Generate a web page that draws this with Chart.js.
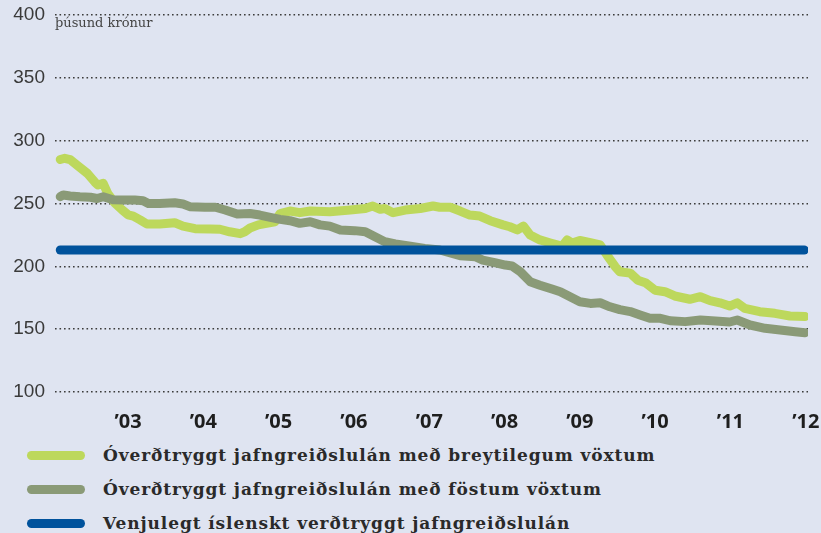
<!DOCTYPE html>
<html lang="is">
<head>
    <meta charset="UTF-8">
    <title>Jafngreiðslulán</title>
    <script src="https://cdn.jsdelivr.net/npm/chart.js"></script>
    <style>
        body {
            margin: 0;
            width: 821px;
            height: 533px;
            overflow: hidden;
            background-color: #dfe4f1;
            position: relative;
        }
        .chart-box {
            position: absolute;
            left: 0;
            top: 0;
            width: 821px;
            height: 432px;
        }
        .legend {
            position: absolute;
            left: 27px;
            top: 438px;
        }
        .legend-row {
            display: flex;
            align-items: center;
            height: 34px;
            font-family: "DejaVu Serif", serif;
            font-weight: bold;
            font-size: 17px;
            letter-spacing: 0.9px;
            color: #2a2a2a;
        }
        .swatch {
            width: 58px;
            height: 9px;
            border-radius: 5px;
            margin-right: 18px;
        }
    </style>
</head>
<body>
    <div class="chart-box">
        <canvas id="loanChart" width="821" height="432"></canvas>
    </div>
    <div class="legend" id="legend"></div>

    <script>
        // gildi lesin af myndinni (þúsund krónur)
        const seriesNames = [
            'Óverðtryggt jafngreiðslulán með breytilegum vöxtum',
            'Óverðtryggt jafngreiðslulán með föstum vöxtum',
            'Venjulegt íslenskt verðtryggt jafngreiðslulán'
        ];
        const seriesColors = ['#bdd85c', '#8a9a77', '#00529c'];

        const variableYears = [2002.10, 2002.16, 2002.23, 2002.32, 2002.46, 2002.56, 2002.60, 2002.67, 2002.73, 2002.83,
            2002.92, 2003.00, 2003.07, 2003.16, 2003.25, 2003.42, 2003.62, 2003.73, 2003.89, 2004.09,
            2004.22, 2004.35, 2004.49, 2004.55, 2004.62, 2004.73, 2004.82, 2004.95, 2005.02, 2005.15,
            2005.28, 2005.42, 2005.68, 2005.95, 2006.15, 2006.25, 2006.35, 2006.41, 2006.52, 2006.68,
            2006.88, 2007.05, 2007.14, 2007.28, 2007.41, 2007.54, 2007.67, 2007.81, 2007.98, 2008.07,
            2008.17, 2008.25, 2008.34, 2008.47, 2008.60, 2008.71, 2008.76, 2008.83, 2008.90, 2009.00,
            2009.14, 2009.27, 2009.36, 2009.47, 2009.53, 2009.67, 2009.77, 2009.87, 2010.00, 2010.13,
            2010.26, 2010.46, 2010.60, 2010.73, 2010.86, 2010.99, 2011.09, 2011.19, 2011.39, 2011.59,
            2011.79, 2011.99];
        const variableValues = [285, 286, 285, 280.6, 274, 267, 264.7, 266, 258, 250,
            245, 241, 240, 237, 233.7, 233.7, 234.7, 232, 230, 229.7,
            229.5, 227.5, 226, 227.5, 230.5, 233, 234, 235.5, 242, 244,
            242.7, 244, 243.5, 244.8, 246, 248, 245.4, 246, 242.7, 244.8,
            246, 248, 247, 247, 244, 240.8, 240, 236.3, 233, 231.5,
            229, 232, 225, 221, 218.8, 217, 215.6, 221, 218.5, 220.6,
            218.8, 217, 209, 199.7, 195.7, 194.6, 189, 187, 181, 179.8,
            176.4, 173.8, 175.8, 172.7, 171, 168.4, 171, 166.6, 163.9, 162.6,
            160.5, 160];

        const fixedYears = [2002.10, 2002.14, 2002.23, 2002.36, 2002.50, 2002.59, 2002.67, 2002.80, 2002.96, 2003.09,
            2003.20, 2003.27, 2003.42, 2003.62, 2003.73, 2003.82, 2004.02, 2004.16, 2004.29, 2004.45,
            2004.62, 2004.75, 2004.89, 2005.02, 2005.15, 2005.28, 2005.42, 2005.55, 2005.68, 2005.82,
            2006.01, 2006.15, 2006.28, 2006.41, 2006.55, 2006.75, 2006.94, 2007.14, 2007.41, 2007.61,
            2007.71, 2007.87, 2008.01, 2008.10, 2008.21, 2008.34, 2008.47, 2008.64, 2008.74, 2008.87,
            2009.00, 2009.14, 2009.27, 2009.40, 2009.53, 2009.67, 2009.80, 2009.93, 2010.07, 2010.20,
            2010.40, 2010.60, 2010.80, 2010.99, 2011.09, 2011.26, 2011.46, 2011.66, 2011.86, 2011.99];
        const fixedValues = [255.4, 256.8, 256, 255.4, 255, 254, 255.4, 253, 252.8, 252.8,
            252.2, 250, 250, 250.6, 249.6, 247.5, 247, 247, 244.8, 241.6,
            242, 240.8, 239, 237.4, 236.3, 234.2, 235.5, 233, 232, 228.9,
            228.4, 227.6, 223.6, 219.6, 217.8, 216, 214.3, 213, 208.5, 207.7,
            205, 203, 201, 200.3, 195.7, 187.8, 185, 181.7, 179.8, 175.8,
            171.8, 170.5, 171, 167.8, 165.5, 164, 161.3, 158.6, 158.6, 156.7,
            156, 157.3, 156.5, 155.7, 157.3, 153.3, 150.7, 149.3, 148, 147.2];

        const indexedYears = [2002.10, 2011.98];
        const indexedValues = [213, 213];

        const yearTicks = [2003, 2004, 2005, 2006, 2007, 2008, 2009, 2010, 2011, 2012];
        const yearLabels = ['’03', '’04', '’05', '’06', '’07', '’08', '’09', '’10', '’11', '’12'];

        function toPoints(xs, ys) {
            return xs.map((x, i) => ({ x: x, y: ys[i] }));
        }

        function lineSet(i, points, order) {
            return {
                label: seriesNames[i],
                data: points,
                borderColor: seriesColors[i],
                borderWidth: 9,
                borderCapStyle: 'round',
                borderJoinStyle: 'round',
                pointRadius: 0,
                tension: 0,
                fill: false,
                order: order
            };
        }

        const unitLabel = {
            id: 'unitLabel',
            afterDatasetsDraw(chart) {
                const ctx = chart.ctx;
                ctx.save();
                ctx.font = '13px "DejaVu Serif", serif';
                ctx.fillStyle = '#444';
                ctx.textBaseline = 'alphabetic';
                ctx.fillText('þúsund krónur', chart.chartArea.left, chart.chartArea.top + 12);
                ctx.restore();
            }
        };

        const chart = new Chart(document.getElementById('loanChart'), {
            type: 'line',
            data: {
                datasets: [
                    lineSet(0, toPoints(variableYears, variableValues), 2),
                    lineSet(1, toPoints(fixedYears, fixedValues), 1),
                    lineSet(2, toPoints(indexedYears, indexedValues), 0)
                ]
            },
            options: {
                responsive: false,
                animation: false,
                layout: { padding: { left: 0, right: 13, top: 15, bottom: 0 } },
                plugins: {
                    legend: { display: false },
                    tooltip: { enabled: false }
                },
                scales: {
                    x: {
                        type: 'linear',
                        min: 2002.03,
                        max: 2012.03,
                        afterBuildTicks: s => { s.ticks = yearTicks.map(v => ({ value: v })); },
                        afterFit: s => { s.height = 40; s.paddingLeft = 0; s.paddingRight = 0; },
                        grid: { display: false },
                        border: { display: false },
                        ticks: {
                            padding: 10,
                            maxRotation: 0,
                            autoSkip: false,
                            color: '#1e1e1e',
                            font: { family: 'Open Sans', size: 20, weight: 'bold' },
                            callback: v => yearLabels[yearTicks.indexOf(v)] || ''
                        }
                    },
                    y: {
                        min: 100,
                        max: 400,
                        afterFit: s => { s.width = 55; s.paddingTop = 0; s.paddingBottom = 0; },
                        grid: {
                            color: '#3c3c3c',
                            lineWidth: 1.6,
                            drawTicks: false
                        },
                        border: { display: false, dash: [1.6, 2.9] },
                        ticks: {
                            stepSize: 50,
                            padding: 10,
                            color: '#3a3a3a',
                            font: { family: 'Liberation Sans', size: 19 }
                        }
                    }
                }
            },
            plugins: [unitLabel]
        });

        // skýringar
        const legend = document.getElementById('legend');
        seriesNames.forEach((name, i) => {
            const row = document.createElement('div');
            row.className = 'legend-row';
            row.innerHTML = '<span class="swatch" style="background:' + seriesColors[i] + '"></span>' + name;
            legend.appendChild(row);
        });
    </script>
</body>
</html>
